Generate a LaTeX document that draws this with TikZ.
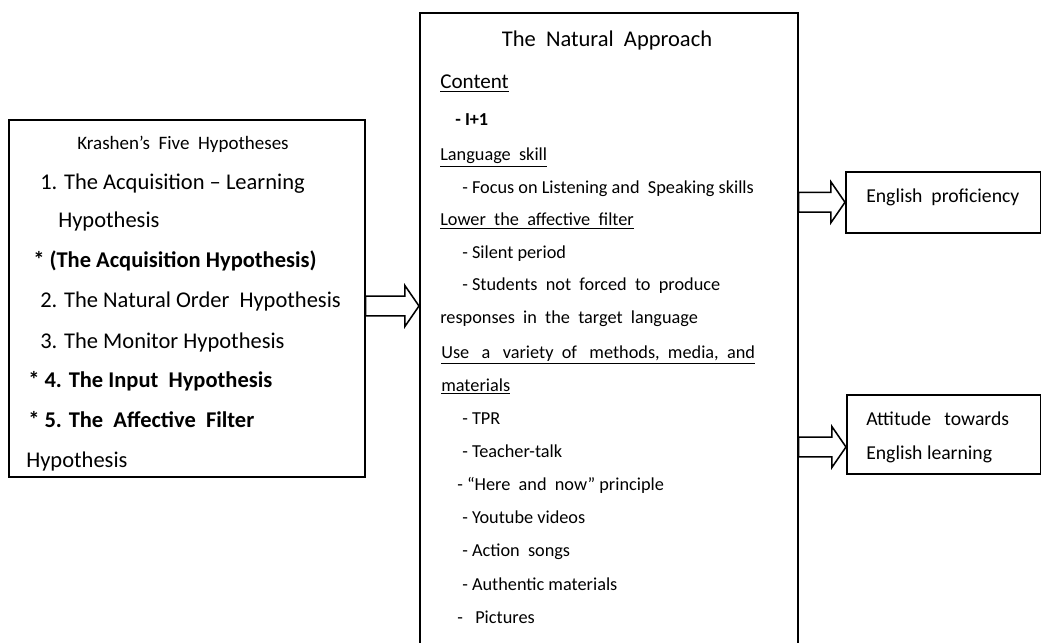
\documentclass[tikz,border=0pt]{standalone}
\usepackage{fontspec}
\setmainfont{Carlito}
\usetikzlibrary{calc}
\tikzset{
	box/.style={draw,line width=1.1pt,anchor=north west,inner sep=0pt},
	ltext/.style={anchor=base west,inner sep=0pt,font=\fontsize{16}{18}\selectfont},
	mtext/.style={anchor=base west,inner sep=0pt,font=\fontsize{13}{15}\selectfont},
	rtext/.style={anchor=base west,inner sep=0pt,font=\fontsize{14}{16}\selectfont},
	blockarrow/.style={line width=1.1pt,to path={
		let \p1=(\tikztostart), \p2=(\tikztotarget) in
		(\x1,\y1+7pt) -- (\x2-10pt,\y1+7pt) -- (\x2-10pt,\y1+14.5pt) -- (\x2,\y1)
		-- (\x2-10pt,\y1-14.5pt) -- (\x2-10pt,\y1-7pt) -- (\x1,\y1-7pt) -- cycle}}
}
\begin{document}
\begin{tikzpicture}[x=0.025cm,y=-0.025cm]
	\useasboundingbox (0,0) rectangle (1041,643);
	\clip (0,0) rectangle (1041,643);
	
	% boxes
	\node[box,minimum width=356*0.025cm,minimum height=357*0.025cm] (krashen) at (8,119) {};
	\node[box,minimum width=378*0.025cm,minimum height=660*0.025cm] (approach) at (419,12) {};
	\node[box,minimum width=195*0.025cm,minimum height=61*0.025cm] (prof) at (845,171) {};
	\node[box,minimum width=194*0.025cm,minimum height=79*0.025cm] (attitude) at (846,394) {};
	
	% left box
	\node[ltext,anchor=base,font=\fontsize{13.5}{15}\selectfont] (k1) at (183,150) {Krashen's\ \ Five\ \ Hypotheses};
	\node[ltext] (k2) at (40,190) {1. The Acquisition -- Learning};
	\node[ltext] (k3) at (58,228) {Hypothesis};
	\node[ltext,font=\fontsize{16}{18}\selectfont\bfseries] (k4) at (33,268) {* (The\ Acquisition\ Hypothesis)};
	\node[ltext] (k5) at (40,308) {2. The Natural Order\ \ Hypothesis};
	\node[ltext] (k6) at (40,348) {3. The Monitor Hypothesis};
	\node[ltext,font=\fontsize{16}{18}\selectfont\bfseries] (k7) at (28,387) {* 4. The Input\ \ Hypothesis};
	\node[ltext,font=\fontsize{16}{18}\selectfont\bfseries] (k8) at (28,427) {* 5. The\ \ Affective\ \ Filter};
	\node[ltext] (k9) at (26,467) {Hypothesis};
	
	% middle box
	\node[mtext,anchor=base,font=\fontsize{16}{18}\selectfont] (a1) at (607,47) {The\ \ Natural\ \ Approach};
	\node[mtext,font=\fontsize{15}{17}\selectfont] (a2) at (440,89) {\underline{Content}};
	\node[mtext,font=\fontsize{13}{15}\selectfont\bfseries] (a3) at (455,126) {- I+1};
	\node[mtext] (a4) at (440,161) {\underline{Language\ \ skill}};
	\node[mtext] (a5) at (462,194) {- Focus on Listening and\ \ Speaking skills};
	\node[mtext] (a6) at (440,226) {\underline{Lower\ \ the\ \ affective\ \ filter}};
	\node[mtext] (a7) at (462,259) {- Silent period};
	\node[mtext] (a8) at (462,291) {- Students\ \ not\ \ forced\ \ to\ \ produce};
	\node[mtext] (a9) at (440,324) {responses\ \ in\ \ the\ \ target\ \ language};
	\node[mtext] (a10) at (441,358) {\underline{Use\ \ \ a\ \ \ variety\ \ of\ \ \ methods,\ \ media,\ \ and}};
	\node[mtext] (a11) at (441,391) {\underline{materials}};
	\node[mtext] (a12) at (462,424) {- TPR};
	\node[mtext] (a13) at (462,457) {- Teacher-talk};
	\node[mtext] (a14) at (457,490) {- ``Here\ \ and\ \ now'' principle};
	\node[mtext] (a15) at (462,523) {- Youtube videos};
	\node[mtext] (a16) at (462,556) {- Action\ \ songs};
	\node[mtext] (a17) at (462,590) {- Authentic materials};
	\node[mtext] (a18) at (457,623) {-\ \ \ Pictures};
	
	% right boxes
	\node[rtext] (p1) at (866,203) {English\ \ proficiency};
	\node[rtext] (t1) at (866,425) {Attitude\ \ \ towards};
	\node[rtext] (t2) at (866,459) {English learning};
	
	% arrows
	\draw[blockarrow] (krashen.east |- 0,306) to (approach.west |- 0,306);
	\draw[blockarrow] (approach.east |- prof.west) to (prof.west);
	\draw[blockarrow] (approach.east |- 0,447) to (attitude.west |- 0,447);
\end{tikzpicture}
\end{document}
